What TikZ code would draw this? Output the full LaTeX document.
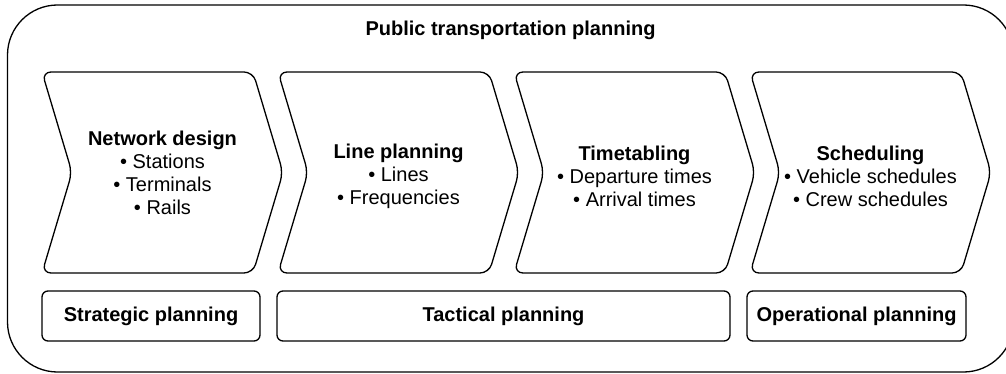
\documentclass[tikz,border=0pt]{standalone}
\usepackage{fontspec}
\setmainfont{Liberation Sans}
\begin{document}
\begin{tikzpicture}[x=1pt,y=-1pt,
  line width=1.3pt,
  txt/.style={align=center,font=\fontsize{20}{23}\selectfont,inner sep=0pt},
  phase/.style={draw,rounded corners=9pt},
  levelbox/.style={draw,rounded corners=6pt,minimum height=50pt,inner sep=0pt,
    font=\fontsize{20}{23}\selectfont\bfseries},
]
\useasboundingbox (0,0) rectangle (1006,374);
\clip (0,0) rectangle (1006,374);

% outer frame
\draw[rounded corners=50pt] (7.5,5) rectangle (1013.5,372);
\node[txt,font=\fontsize{20}{23}\selectfont\bfseries,anchor=base] (title) at (510.5,36) {Public transportation planning};

% process steps (chevrons)
\foreach \i in {0,1,2,3}{
  \pgfmathsetmacro{\xa}{42+236*\i}
  \draw[phase] (\xa,72) -- ++(211,0) -- ++(30,100.5) -- ++(-30,100.5)
     -- ++(-211,0) -- ++(30,-100.5) -- cycle;
}
\node[txt] (netdesign) at (162.5,173) {\textbf{Network design}\\• Stations\\• Terminals\\• Rails};
\node[txt] (lineplan) at (398.5,176) {\textbf{Line planning}\\• Lines\\• Frequencies};
\node[txt] (timetab) at (634.5,176) {\textbf{Timetabling}\\• Departure times\\• Arrival times};
\node[txt] (sched) at (870.5,176) {\textbf{Scheduling}\\• Vehicle schedules\\• Crew schedules};

% planning levels
\node[levelbox,minimum width=218pt] (strategic) at (151,316) {Strategic planning};
\node[levelbox,minimum width=453pt] (tactical) at (503.5,316) {Tactical planning};
\node[levelbox,minimum width=219pt] (operational) at (856.5,316) {Operational planning};
\end{tikzpicture}
\end{document}
